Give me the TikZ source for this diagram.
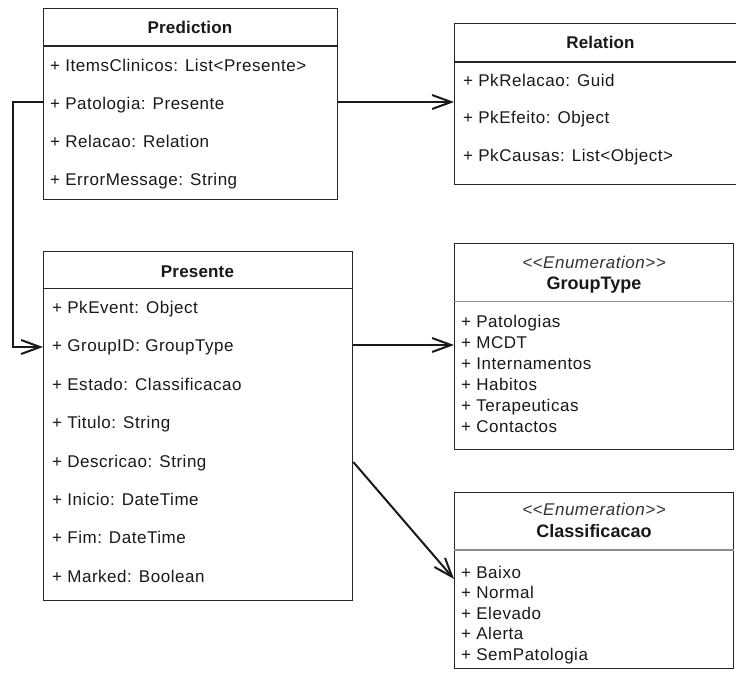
\documentclass[tikz,border=0pt]{standalone}
\usepackage{fontspec}
\setmainfont{Liberation Sans}
\newfontfamily\rowfont{Liberation Sans}[LetterSpace=3.1]
\newfontfamily\headfont{Liberation Sans}[LetterSpace=1]
\usetikzlibrary{arrows.meta}

\tikzset{
  umlbox/.style={draw=black!85, line width=1.3pt, inner sep=0pt, anchor=north west, fill=white},
  headsep/.style={draw=black!85, line width=1.2pt},
  enumsep/.style={draw=black!45, line width=1.2pt},
  row/.style={anchor=base west, inner sep=0pt, text=black!90, font=\rowfont\fontsize{17}{20}\selectfont},
  classname/.style={anchor=base, inner sep=0pt, text=black!90, font=\headfont\bfseries\fontsize{17}{20}\selectfont},
  enumname/.style={anchor=base, inner sep=0pt, text=black!90, font=\setmainfont{Liberation Sans}\bfseries\fontsize{18}{21}\selectfont},
  stereo/.style={anchor=base, inner sep=0pt, text=black!80, font=\rowfont\itshape\fontsize{17}{20}\selectfont},
  assoc/.style={draw=black!90, line width=2pt, line join=miter,
    -{Straight Barb[length=19pt, width=14pt, line width=2pt]}},
}

\begin{document}
\begin{tikzpicture}[x=1pt, y=-1pt]
\useasboundingbox (0,0) rectangle (736,673);

% ---- class boxes ----
\node[umlbox, minimum width=294pt, minimum height=191pt] (pred) at (43,8) {};
\node[umlbox, minimum width=292pt, minimum height=161pt] (rel)  at (454,23) {};
\node[umlbox, minimum width=309pt, minimum height=349pt] (pres) at (43,251) {};
\node[umlbox, minimum width=279pt, minimum height=206pt] (grp)  at (454,243) {};
\node[umlbox, minimum width=279pt, minimum height=176pt] (cls)  at (454,492) {};

% ---- compartment separators ----
\draw[headsep] (pred.west |- 0,46)    -- (pred.east |- 0,46);
\draw[headsep] (rel.west |- 0,62)     -- (rel.east |- 0,62);
\draw[headsep] (pres.west |- 0,288.5) -- (pres.east |- 0,288.5);
\draw[enumsep] (grp.west |- 0,301.5)  -- (grp.east |- 0,301.5);
\draw[enumsep] (cls.west |- 0,550)    -- (cls.east |- 0,550);

% ---- Prediction ----
\node[classname] (predT) at (190,33) {Prediction};
\node[row] (predA) at (50,71)  {+ ItemsClinicos: List<Presente>};
\node[row] (predB) at (50,109) {+ Patologia: Presente};
\node[row] (predC) at (50,147) {+ Relacao: Relation};
\node[row] (predD) at (50,185) {+ ErrorMessage: String};

% ---- Relation ----
\node[classname] (relT) at (600.5,48) {Relation};
\node[row] (relA) at (463,86)    {+ PkRelacao: Guid};
\node[row] (relB) at (463,123.5) {+ PkEfeito: Object};
\node[row] (relC) at (463,161)   {+ PkCausas: List<Object>};

% ---- Presente ----
\node[classname] (presT) at (197.5,277) {Presente};
\node[row] (presA) at (52,313)   {+ PkEvent: Object};
\node[row] (presB) at (52,351.5) {+ GroupID: GroupType};
\node[row] (presC) at (52,390)   {+ Estado: Classificacao};
\node[row] (presD) at (52,428.5) {+ Titulo: String};
\node[row] (presE) at (52,467)   {+ Descricao: String};
\node[row] (presF) at (52,505)   {+ Inicio: DateTime};
\node[row] (presG) at (52,543)   {+ Fim: DateTime};
\node[row] (presH) at (52,582)   {+ Marked: Boolean};

% ---- GroupType (enumeration) ----
\node[stereo]   (grpS) at (594,268) {<<Enumeration>>};
\node[enumname] (grpT) at (594,289) {GroupType};
\node[row] (grpA) at (461,327.5) {+ Patologias};
\node[row] (grpB) at (461,348.5) {+ MCDT};
\node[row] (grpC) at (461,369.5) {+ Internamentos};
\node[row] (grpD) at (461,390.5) {+ Habitos};
\node[row] (grpE) at (461,411.5) {+ Terapeuticas};
\node[row] (grpF) at (461,432.5) {+ Contactos};

% ---- Classificacao (enumeration) ----
\node[stereo]   (clsS) at (594,515) {<<Enumeration>>};
\node[enumname] (clsT) at (594,537) {Classificacao};
\node[row] (clsA) at (461,578)   {+ Baixo};
\node[row] (clsB) at (461,598.5) {+ Normal};
\node[row] (clsC) at (461,619)   {+ Elevado};
\node[row] (clsD) at (461,639.5) {+ Alerta};
\node[row] (clsE) at (461,660)   {+ SemPatologia};

% ---- associations ----
\coordinate (bendTop) at (13,102);
\coordinate (bendBot) at (13,347);
\draw[assoc] (pred.east |- 0,102) -- (rel.west |- 0,102);
\draw[assoc] (pred.west |- 0,102) -- (bendTop) -- (bendBot) -- (pres.west |- 0,347);
\draw[assoc] (pres.east |- 0,345) -- (grp.west |- 0,345);
\draw[assoc] (pres.east |- 0,462) -- (cls.west |- 0,579);
\end{tikzpicture}
\end{document}
